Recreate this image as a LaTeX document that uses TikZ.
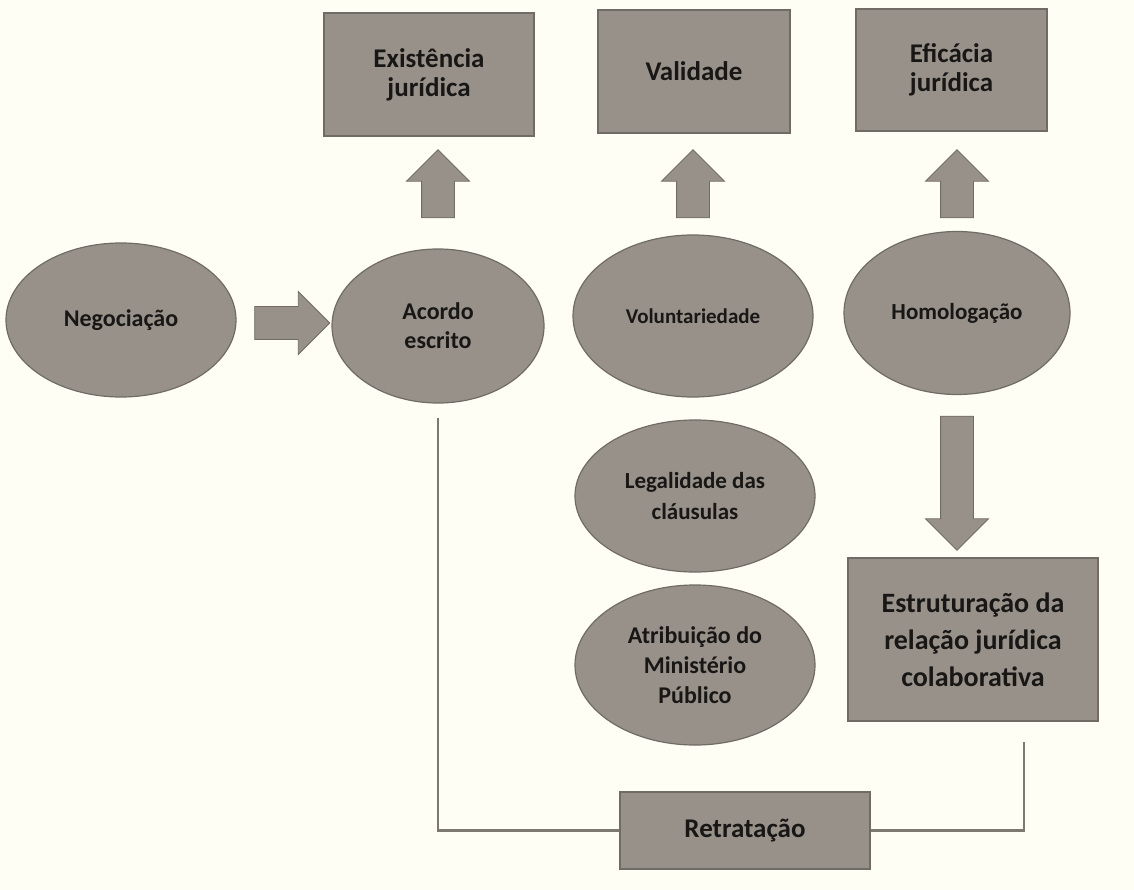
\documentclass[tikz,border=0pt]{standalone}
\usepackage{fontspec}
\setmainfont{Carlito}
\usetikzlibrary{shapes.geometric,shapes.arrows,positioning,calc}

\definecolor{paper}{RGB}{254,254,244}
\definecolor{boxgray}{RGB}{151,145,137}
\definecolor{edgegray}{RGB}{112,107,101}
\definecolor{ink}{RGB}{24,23,22}
\definecolor{wiregray}{RGB}{125,120,112}

\tikzset{
  oval/.style={ellipse, draw=edgegray, fill=boxgray, line width=1.2pt, inner sep=0pt,
    align=center, text=ink, font=\bfseries\fontsize{24}{29}\selectfont},
  card/.style={rectangle, draw=edgegray, fill=boxgray, line width=1.2pt, inner sep=0pt,
    align=center, text=ink, font=\bfseries\fontsize{27}{29}\selectfont},
  fat/.style={single arrow, draw=edgegray, fill=boxgray, line width=0.8pt,
    inner xsep=0pt, inner ysep=16pt, single arrow head extend=15pt},
  wire/.style={draw=wiregray, line width=2.4pt}
}

\begin{document}
\begin{tikzpicture}[x=1pt, y=-1pt]
    \fill[paper] (0,0) rectangle (1134,890);
    \useasboundingbox (0,0) rectangle (1134,890);

    % Top row: results
    \node[card, minimum width=210pt, minimum height=123pt] (exist) at (429,74.5) {Existência\\jurídica};
    \node[card, minimum width=192pt, minimum height=123pt] (valid) at (694,71.5) {Validade};
    \node[card, minimum width=191pt, minimum height=122pt] (efic) at (951.5,70) {Eficácia\\jurídica};

    % Middle row: ovals
    \node[oval, minimum width=230pt, minimum height=154pt] (neg) at (121,320) {Negociação};
    \node[oval, minimum width=212pt, minimum height=154pt] (acordo) at (438,326) {Acordo\\escrito};
    \node[oval, minimum width=240pt, minimum height=162pt,
          font=\bfseries\fontsize{21}{25}\selectfont] (volunt) at (693,316) {Voluntariedade};
    \node[oval, minimum width=226pt, minimum height=163pt,
          font=\bfseries\fontsize{23}{28}\selectfont] (homol) at (957,313) {Homologação};

    % Lower ovals and boxes
    \node[oval, minimum width=240pt, minimum height=152pt,
          font=\bfseries\fontsize{23}{31}\selectfont] (legal) at (695,496) {Legalidade das\\cláusulas};
    \node[oval, minimum width=240pt, minimum height=160pt,
          font=\bfseries\fontsize{24}{30}\selectfont] (atrib) at (695,665) {Atribuição do\\Ministério\\Público};
    \node[card, minimum width=250pt, minimum height=163pt,
          font=\bfseries\fontsize{28}{37}\selectfont] (estrut) at (973,639.5) {Estruturação da\\relação jurídica\\colaborativa};
    \node[card, minimum width=250pt, minimum height=77pt] (retrat) at (745,830.5) {Retratação};

    % Block arrows
    \coordinate (arrowrow) at (0,192);
    \foreach \a in {acordo,volunt,homol}
        \node[fat, minimum height=68pt, rotate=90] (up-\a) at (\a.north |- arrowrow) {};
    \node[fat, minimum height=75pt] (go) at ($(neg.east)!0.5!(acordo.west)$) {};
    \node[fat, minimum height=134pt, rotate=-90] (down) at (957,475) {};

    % Withdrawal loop
    \coordinate (drop) at ([yshift=-14pt]acordo.south);
    \coordinate (rise) at (1024,742);
    \draw[wire] (drop) |- (retrat.west);
    \draw[wire] (retrat.east) -| (rise);
\end{tikzpicture}
\end{document}
